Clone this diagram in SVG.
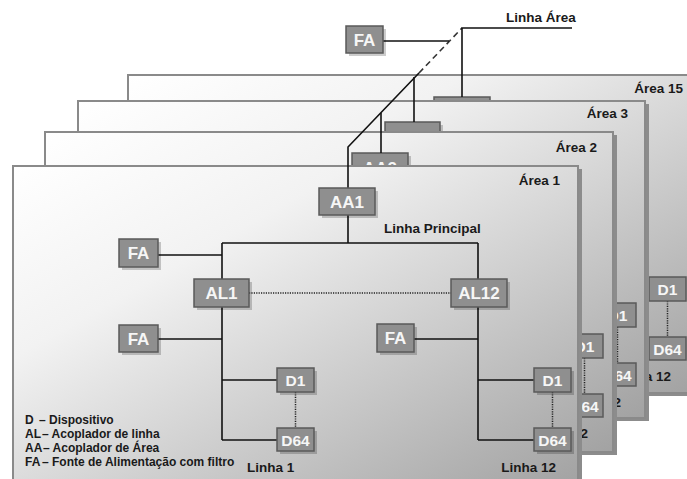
<svg xmlns="http://www.w3.org/2000/svg" width="687" height="479" viewBox="0 0 687 479">
  <defs>
    <linearGradient id="panelFill" x1="0" y1="0" x2="1" y2="1">
      <stop offset="0" stop-color="#ffffff"/>
      <stop offset="0.3" stop-color="#f2f2f2"/>
      <stop offset="1" stop-color="#a2a2a2"/>
    </linearGradient>
    <style>
      .panel { fill: url(#panelFill); stroke: #8a8a8a; stroke-width: 2; }
      .pshadow { fill: #8c8c8c; }
      .box { fill: #8f8f8f; stroke: #5a5a5a; stroke-width: 1.5; }
      .bshadow { fill: #000; opacity: 0.2; }
      .btxt { font-family: "Liberation Sans", Arial, sans-serif; font-weight: bold; font-size: 17px; fill: #f6f6f6; text-anchor: middle; }
      .dtxt { font-size: 15.5px; }
      .lbl { font-family: "Liberation Sans", Arial, sans-serif; font-weight: bold; font-size: 13.5px; fill: #1a1a1a; }
      .end { text-anchor: end; }
      .leg { font-family: "Liberation Sans", Arial, sans-serif; font-weight: bold; font-size: 12px; fill: #1a1a1a; }
      .wire { stroke: #111; stroke-width: 1.6; fill: none; }
      .dot { stroke: #222; stroke-width: 1.5; stroke-dasharray: 1.2 1.2; fill: none; }
      .dash { stroke: #333; stroke-width: 1.6; stroke-dasharray: 6 4; fill: none; }
    </style>
  </defs>

  <!-- Area 15 (rearmost) -->
  <g id="area15">
    <rect class="pshadow" x="132" y="78" width="566" height="318"/>
    <rect class="panel" x="128" y="75" width="566" height="318"/>
    <text class="lbl end" x="683" y="93">Área 15</text>
    <g id="aa15"><rect class="bshadow" x="437" y="100" width="56" height="27"/><rect class="box" x="434" y="97" width="56" height="27"/></g>
    <line class="dot" x1="667.5" y1="301" x2="667.5" y2="337"/>
    <g id="a15-d1"><rect class="box" x="649" y="277" width="37" height="24"/><text class="btxt dtxt" x="667.5" y="295">D1</text></g>
    <g id="a15-d64"><rect class="box" x="649" y="337" width="37" height="23"/><text class="btxt dtxt" x="667.5" y="355">D64</text></g>
    <text class="lbl end" x="671" y="381">a 12</text>
  </g>

  <!-- Area 3 -->
  <g id="area3">
    <rect class="pshadow" x="82" y="104" width="567" height="317"/>
    <rect class="panel" x="78" y="101" width="567" height="317"/>
    <text class="lbl end" x="628" y="118">Área 3</text>
    <g id="aa3"><rect class="bshadow" x="388" y="125" width="55" height="27"/><rect class="box" x="385" y="122" width="55" height="27"/><text class="btxt" x="412.5" y="143">AA3</text></g>
    <line class="dot" x1="617.5" y1="327" x2="617.5" y2="363"/>
    <g id="a3-d1"><rect class="box" x="599" y="303" width="37" height="24"/><text class="btxt dtxt" x="617.5" y="321">D1</text></g>
    <g id="a3-d64"><rect class="box" x="599" y="363" width="37" height="23"/><text class="btxt dtxt" x="617.5" y="381">D64</text></g>
    <text class="lbl end" x="621" y="407">2</text>
  </g>

  <!-- Area 2 -->
  <g id="area2">
    <rect class="pshadow" x="49" y="135" width="568" height="320"/>
    <rect class="panel" x="45" y="132" width="568" height="320"/>
    <text class="lbl end" x="597" y="152">Área 2</text>
    <g id="aa2"><rect class="bshadow" x="355" y="156" width="56" height="27"/><rect class="box" x="352" y="153" width="56" height="27"/><text class="btxt" x="380" y="174">AA2</text></g>
    <line class="dot" x1="584.5" y1="358" x2="584.5" y2="394"/>
    <g id="a2-d1"><rect class="box" x="566" y="334" width="37" height="24"/><text class="btxt dtxt" x="584.5" y="352">D1</text></g>
    <g id="a2-d64"><rect class="box" x="566" y="394" width="37" height="23"/><text class="btxt dtxt" x="584.5" y="412">D64</text></g>
    <text class="lbl end" x="588" y="438">2</text>
  </g>

  <!-- Area 1 (front) -->
  <g id="area1">
    <rect class="pshadow" x="17" y="169" width="565" height="320"/>
    <rect class="panel" x="13" y="166" width="565" height="320"/>
    <text class="lbl end" x="560" y="185">Área 1</text>
    <text class="lbl" x="384" y="233">Linha Principal</text>
    <text class="lbl" x="247" y="472">Linha 1</text>
    <text class="lbl end" x="556" y="472">Linha 12</text>
    <g id="legend" class="leg">
      <text x="25" y="424">D<tspan x="39">– Dispositivo</tspan></text>
      <text x="25" y="438">AL<tspan x="42">– Acoplador de linha</tspan></text>
      <text x="25" y="452">AA<tspan x="43">– Acoplador de Área</tspan></text>
      <text x="25" y="466">FA<tspan x="42">– Fonte de Alimentação com filtro</tspan></text>
    </g>
  </g>

  <!-- Connectors: area backbone and the lines of Area 1 -->
  <g id="connectors">
    <polyline class="wire" points="348,243 348,147 419,73"/>
    <line class="dash" x1="419" y1="73" x2="462" y2="28"/>
    <polyline class="wire" points="462,97 462,28 572,28"/>
    <line class="wire" x1="381" y1="113" x2="381" y2="153"/>
    <line class="wire" x1="414" y1="77" x2="414" y2="122"/>
    <line class="wire" x1="383" y1="41" x2="449" y2="41"/>

    <line class="wire" x1="222" y1="243" x2="478" y2="243"/>
    <line class="wire" x1="222" y1="243" x2="222" y2="440"/>
    <line class="wire" x1="478" y1="243" x2="478" y2="440"/>
    <line class="wire" x1="158" y1="255" x2="222" y2="255"/>
    <line class="wire" x1="158" y1="339" x2="222" y2="339"/>
    <line class="wire" x1="222" y1="380" x2="277" y2="380"/>
    <line class="wire" x1="222" y1="440" x2="277" y2="440"/>
    <line class="wire" x1="414" y1="339" x2="478" y2="339"/>
    <line class="wire" x1="478" y1="380" x2="534" y2="380"/>
    <line class="wire" x1="478" y1="440" x2="534" y2="440"/>
    <line class="dot" x1="249" y1="293" x2="451" y2="293"/>
    <line class="dot" x1="295.5" y1="392" x2="295.5" y2="428"/>
    <line class="dot" x1="552.5" y1="392" x2="552.5" y2="428"/>
  </g>

  <!-- Line label above the backbone -->
  <text class="lbl" x="506" y="22">Linha Área</text>

  <!-- Nodes -->
  <g id="fa-area"><rect class="bshadow" x="349" y="29" width="37" height="27"/><rect class="box" x="346" y="26" width="37" height="27"/><text class="btxt" x="364.5" y="46">FA</text></g>
  <g id="aa1"><rect class="bshadow" x="322" y="191" width="56" height="27"/><rect class="box" x="319" y="188" width="56" height="27"/><text class="btxt" x="347" y="208">AA1</text></g>
  <g id="fa-main"><rect class="bshadow" x="122" y="242" width="39" height="28"/><rect class="box" x="119" y="239" width="39" height="28"/><text class="btxt" x="138.5" y="259">FA</text></g>
  <g id="al1"><rect class="bshadow" x="197" y="282" width="55" height="28"/><rect class="box" x="194" y="279" width="55" height="28"/><text class="btxt" x="221.5" y="299">AL1</text></g>
  <g id="al12"><rect class="bshadow" x="454" y="282" width="56" height="28"/><rect class="box" x="451" y="279" width="56" height="28"/><text class="btxt" x="479" y="299">AL12</text></g>
  <g id="fa-l1"><rect class="bshadow" x="122" y="328" width="39" height="27"/><rect class="box" x="119" y="325" width="39" height="27"/><text class="btxt" x="138.5" y="345">FA</text></g>
  <g id="fa-l12"><rect class="bshadow" x="380" y="327" width="37" height="28"/><rect class="box" x="377" y="324" width="37" height="28"/><text class="btxt" x="395.5" y="344">FA</text></g>
  <g id="l1-d1"><rect class="bshadow" x="280" y="371" width="37" height="24"/><rect class="box" x="277" y="368" width="37" height="24"/><text class="btxt dtxt" x="295.5" y="386">D1</text></g>
  <g id="l1-d64"><rect class="bshadow" x="280" y="431" width="37" height="23"/><rect class="box" x="277" y="428" width="37" height="23"/><text class="btxt dtxt" x="295.5" y="446">D64</text></g>
  <g id="l12-d1"><rect class="bshadow" x="537" y="371" width="37" height="24"/><rect class="box" x="534" y="368" width="37" height="24"/><text class="btxt dtxt" x="552.5" y="386">D1</text></g>
  <g id="l12-d64"><rect class="bshadow" x="537" y="431" width="37" height="23"/><rect class="box" x="534" y="428" width="37" height="23"/><text class="btxt dtxt" x="552.5" y="446">D64</text></g>
</svg>
